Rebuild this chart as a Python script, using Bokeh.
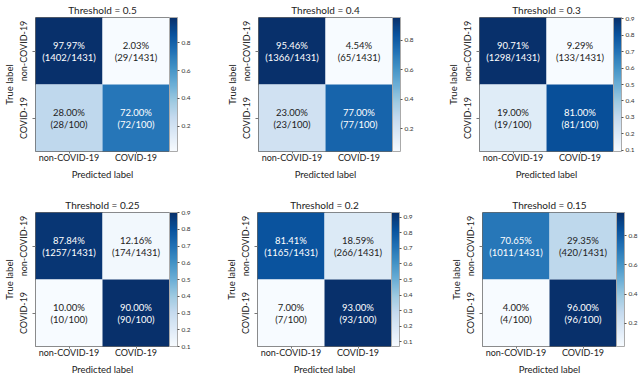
from bokeh.plotting import figure
from bokeh.models import ColumnDataSource, LinearColorMapper, ColorBar, FixedTicker
from bokeh.layouts import row, column
from bokeh.palettes import Blues256
from bokeh.core.properties import value
from bokeh.embed import file_html
from bokeh.resources import INLINE

FONT = "Lato"

thresholds = ["0.5", "0.4", "0.3", "0.25", "0.2", "0.15"]
classes = ["non-COVID-19", "COVID-19"]
# confusion-matrix counts for each threshold
tn = [1402, 1366, 1298, 1257, 1165, 1011]
fp = [29, 65, 133, 174, 266, 420]
fn = [28, 23, 19, 10, 7, 4]
tp = [72, 77, 81, 90, 93, 96]
neg_total = 1431
pos_total = 100
cbar_ticks = [
    [0.2, 0.4, 0.6, 0.8],
    [0.2, 0.4, 0.6, 0.8],
    [0.1, 0.2, 0.3, 0.4, 0.5, 0.6, 0.7, 0.8, 0.9],
    [0.1, 0.2, 0.3, 0.4, 0.5, 0.6, 0.7, 0.8, 0.9],
    [0.1, 0.2, 0.3, 0.4, 0.5, 0.6, 0.7, 0.8, 0.9],
    [0.2, 0.4, 0.6, 0.8],
]

# layout (pixels)
S = 134
col_w = [212, 213, 213]
row_h = [188, 187]
frame_top = [14, 21]
frame_left = [29, 40, 48, 27, 37, 49]
cb_gap = [11, 10, 12, 10, 12, 12]
TXT = "#222222"


def make(i):
    r_ = 0 if i < 3 else 1
    c_ = i % 3
    top = frame_top[r_]
    left = frame_left[i]
    pred = [classes[0], classes[1], classes[0], classes[1]]
    true = [classes[0], classes[0], classes[1], classes[1]]
    counts = [tn[i], fp[i], fn[i], tp[i]]
    totals = [neg_total, neg_total, pos_total, pos_total]
    rates = [c / t for c, t in zip(counts, totals)]
    lo, hi = min(rates), max(rates)
    mapper = LinearColorMapper(palette=list(reversed(Blues256)), low=lo, high=hi)
    src = ColumnDataSource(dict(
        x=pred, y=true, r=rates,
        pct=[f"{r * 100:.2f}%" for r in rates],
        frac=[f"({c}/{t})" for c, t in zip(counts, totals)],
        tc=["white" if r > hi / 2 else TXT for r in rates],
    ))
    p = figure(frame_width=S, frame_height=S, x_range=classes, y_range=classes[::-1],
               output_backend="svg", toolbar_location=None, tools="",
               title=f"Threshold = {thresholds[i]}",
               min_border_left=left, min_border_top=top,
               min_border_right=col_w[c_] - left - S,
               min_border_bottom=row_h[r_] - top - S)
    p.rect(x="x", y="y", width=1, height=1, source=src,
           fill_color={"field": "r", "transform": mapper}, line_color=None)
    for col, off in (("pct", -6), ("frac", 6)):
        p.text(x="x", y="y", text=col, source=src, y_offset=off,
               text_align="center", text_baseline="middle", text_color="tc",
               text_font=value(FONT), text_font_size="9.5px")
    p.title.align = "center"
    p.title.text_font = FONT
    p.title.text_font_size = "10px"
    p.title.text_font_style = "normal"
    p.title.text_color = TXT
    p.title.standoff = 3
    p.outline_line_color = "#666666"
    p.grid.visible = False
    p.xaxis.axis_label = "Predicted label"
    p.yaxis.axis_label = "True label"
    p.yaxis.major_label_orientation = "vertical"
    for ax in (p.xaxis[0], p.yaxis[0]):
        ax.axis_line_color = None
        ax.major_tick_line_color = "#777777"
        ax.major_tick_in = 0
        ax.major_label_text_font = FONT
        ax.major_label_text_font_size = "9px"
        ax.major_label_text_color = TXT
        ax.axis_label_text_font = FONT
        ax.axis_label_text_font_size = "9.5px"
        ax.axis_label_text_font_style = "normal"
        ax.axis_label_text_color = TXT
    xa, ya = p.xaxis[0], p.yaxis[0]
    xa.major_tick_out = 2
    xa.major_label_standoff = -2
    xa.axis_label_standoff = 3
    ya.major_tick_out = 3
    ya.major_label_standoff = 4
    ya.axis_label_standoff = 0
    cb = ColorBar(color_mapper=mapper, ticker=FixedTicker(ticks=cbar_ticks[i]),
                  width=8, padding=0, margin=cb_gap[i],
                  bar_line_color="#aaaaaa", major_tick_out=2, major_tick_in=0,
                  major_tick_line_color="#555555", label_standoff=2,
                  major_label_text_font=FONT, major_label_text_font_size="6.5px",
                  major_label_text_color="#333333")
    p.add_layout(cb, "right")
    return p


plots = [make(i) for i in range(6)]
layout = column(row(plots[:3], spacing=0), row(plots[3:], spacing=0), spacing=0)
open("out.html", "w").write(file_html(layout, INLINE))
